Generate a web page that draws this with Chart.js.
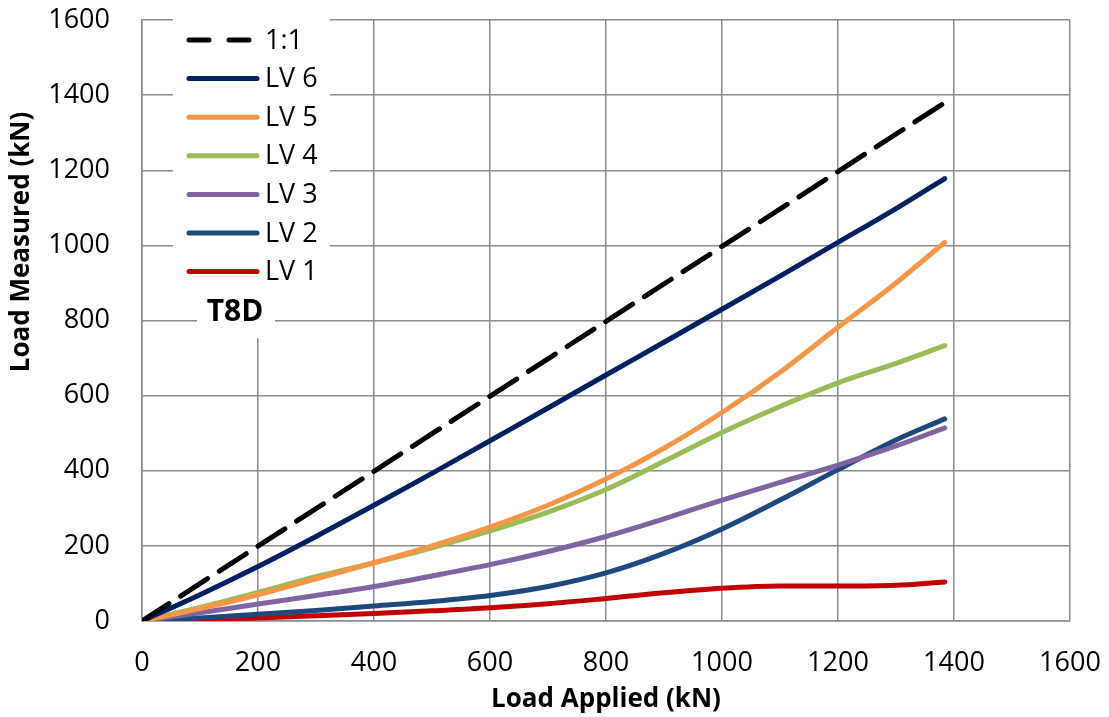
<!DOCTYPE html>
<html>
<head>
<meta charset="utf-8">
<script src="https://cdn.jsdelivr.net/npm/chart.js@4/dist/chart.umd.min.js"></script>
<style>
    html, body { margin: 0; padding: 0; background: #fff; }
    #wrap { width: 1109px; height: 717px; }
</style>
</head>
<body>
<div id="wrap"><canvas id="loadChart" width="1109" height="717"></canvas></div>
<script>

/* DATA */
const axisTicks = [0, 200, 400, 600, 800, 1000, 1200, 1400, 1600];

const refApplied = [0, 1384];
const refMeasured = [0, 1380];

const loadApplied = [0, 100, 200, 300, 400, 500, 600, 700, 800, 900, 1000, 1100, 1200, 1300, 1384];

const lv6 = [0, 70, 145, 225, 308, 393, 480, 567, 655, 742, 830, 918, 1008, 1098, 1178];
const lv5 = [0, 33, 70, 112, 155, 200, 250, 308, 378, 460, 555, 662, 782, 900, 1008];
const lv4 = [0, 36, 76, 118, 155, 195, 240, 290, 350, 425, 502, 571, 634, 686, 733];
const lv3 = [0, 22, 45, 68, 92, 120, 150, 185, 225, 272, 322, 369, 415, 466, 514];
const lv2 = [0, 8, 18, 28, 40, 52, 68, 92, 128, 180, 245, 322, 403, 482, 538];
const lv1 = [0, 3, 8, 14, 20, 27, 35, 46, 60, 75, 87, 93, 93, 95, 104];

const seriesNames = ["1:1", "LV 6", "LV 5", "LV 4", "LV 3", "LV 2", "LV 1"];
const seriesColors = ["#000000", "#002060", "#f79646", "#9bbb59", "#8064a2", "#1f497d", "#c00000"];

const specimen = "T8D";
const xTitle = "Load Applied (kN)";
const yTitle = "Load Measured (kN)";

document.addEventListener("DOMContentLoaded", () => {

    const gridColor = "#8c8c8c";
    const fontFamily = "'Open Sans', 'Liberation Sans', sans-serif";

    const pts = (xs, ys) => xs.map((x, i) => ({ x: x, y: ys[i] }));

    const curves = [lv6, lv5, lv4, lv3, lv2, lv1];

    const datasets = [
        {
            label: seriesNames[0],
            data: pts(refApplied, refMeasured),
            borderColor: seriesColors[0],
            borderWidth: 5,
            borderDash: [32, 14],
            borderCapStyle: "round"
        }
    ];

    curves.forEach((vals, i) => {
        datasets.push({
            label: seriesNames[i + 1],
            data: pts(loadApplied, vals),
            borderColor: seriesColors[i + 1],
            borderWidth: 5,
            borderCapStyle: "round",
            cubicInterpolationMode: "monotone"
        });
    });

    /* LEGEND, LABEL + Y TITLE drawn by hand */
    const insetLegend = {
        id: "insetLegend",
        afterDraw(chart) {
            const c = chart.ctx;
            c.save();

            c.fillStyle = "#ffffff";
            c.fillRect(173, 17, 157, 283);
            c.fillRect(197, 295, 78, 43);

            c.font = "27px " + fontFamily;
            c.textBaseline = "middle";
            c.textAlign = "left";
            c.lineCap = "round";
            c.lineWidth = 5;

            chart.data.datasets.forEach((ds, i) => {
                const y = 40 + i * 38.6;

                c.strokeStyle = ds.borderColor;
                if (ds.borderDash) c.setLineDash([20, 20]);
                else c.setLineDash([]);

                c.beginPath();
                c.moveTo(189, y);
                c.lineTo(257, y);
                c.stroke();

                c.fillStyle = "#000000";
                c.fillText(ds.label, 265, y + 1);
            });

            c.font = "bold 30px " + fontFamily;
            c.textAlign = "center";
            c.fillText(specimen, 235, 312);

            // y title sits above centre in the original
            c.translate(22, 242);
            c.rotate(-Math.PI / 2);
            c.font = "bold 26px " + fontFamily;
            c.fillText(yTitle, 0, 0);

            c.restore();
        }
    };

    const plain = (v) => String(v);

    /* CHART */
    new Chart(document.getElementById("loadChart"), {
        type: "line",
        data: { datasets },
        options: {
            responsive: false,
            animation: false,
            layout: { padding: { left: 0, right: 39, top: 20, bottom: 0 } },
            elements: { point: { radius: 0 } },
            plugins: {
                legend: { display: false },
                tooltip: { enabled: false }
            },
            scales: {
                x: {
                    type: "linear",
                    min: axisTicks[0],
                    max: axisTicks[axisTicks.length - 1],
                    afterBuildTicks: (s) => { s.ticks = axisTicks.map(v => ({ value: v })); },
                    afterFit: (s) => {
                        s.height = 96;
                        s.paddingLeft = 0;
                        s.paddingRight = 0;
                    },
                    grid: { color: gridColor, lineWidth: 1.5, drawTicks: false },
                    border: { color: gridColor, width: 1.5 },
                    ticks: {
                        color: "#000",
                        padding: 26,
                        maxRotation: 0,
                        callback: plain,
                        font: { family: fontFamily, size: 27 }
                    },
                    title: {
                        display: true,
                        text: xTitle,
                        color: "#000",
                        padding: { top: 0, bottom: 2 },
                        font: { family: fontFamily, size: 26, weight: "bold" }
                    }
                },
                y: {
                    type: "linear",
                    min: axisTicks[0],
                    max: axisTicks[axisTicks.length - 1],
                    afterBuildTicks: (s) => { s.ticks = axisTicks.map(v => ({ value: v })); },
                    afterFit: (s) => {
                        s.width = 142;
                        s.paddingTop = 0;
                        s.paddingBottom = 0;
                    },
                    grid: { color: gridColor, lineWidth: 1.5, drawTicks: false },
                    border: { color: gridColor, width: 1.5 },
                    ticks: {
                        color: "#000",
                        padding: 32,
                        callback: plain,
                        font: { family: fontFamily, size: 27 }
                    }
                }
            }
        },
        plugins: [insetLegend]
    });

});
</script>
</body>
</html>
